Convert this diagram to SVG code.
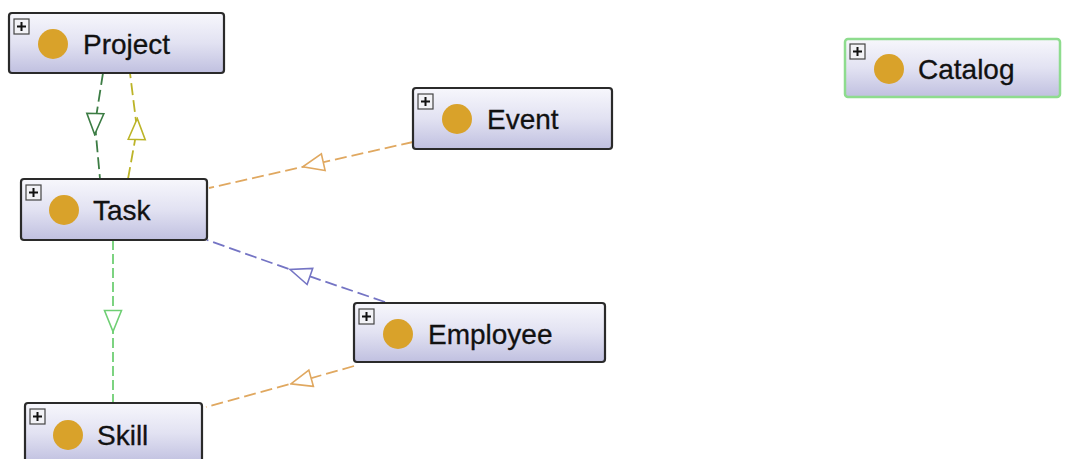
<svg xmlns="http://www.w3.org/2000/svg" width="1065" height="459" viewBox="0 0 1065 459">
  <defs>
    <linearGradient id="boxFill" x1="0" y1="0" x2="0" y2="1">
      <stop offset="0" stop-color="#f7f7fc"/>
      <stop offset="0.5" stop-color="#e2e2f2"/>
      <stop offset="1" stop-color="#c0c0e0"/>
    </linearGradient>
    <!-- hollow triangle placed at the middle vertex of each connector -->
    <marker id="triDarkGreen" viewBox="0 0 24 20" refX="12" refY="10" markerWidth="24" markerHeight="20" markerUnits="userSpaceOnUse" orient="auto">
      <polygon points="1.5,1.5 22.5,10 1.5,18.5" fill="#ffffff" stroke="#3c7c44" stroke-width="1.6"/>
    </marker>
    <marker id="triYellow" viewBox="0 0 24 20" refX="12" refY="10" markerWidth="24" markerHeight="20" markerUnits="userSpaceOnUse" orient="auto">
      <polygon points="1.5,1.5 22.5,10 1.5,18.5" fill="#ffffff" stroke="#bcb428" stroke-width="1.6"/>
    </marker>
    <marker id="triOrange" viewBox="0 0 24 20" refX="12" refY="10" markerWidth="24" markerHeight="20" markerUnits="userSpaceOnUse" orient="auto">
      <polygon points="1.5,1.5 22.5,10 1.5,18.5" fill="#ffffff" stroke="#e0a860" stroke-width="1.6"/>
    </marker>
    <marker id="triBlue" viewBox="0 0 24 20" refX="12" refY="10" markerWidth="24" markerHeight="20" markerUnits="userSpaceOnUse" orient="auto">
      <polygon points="1.5,1.5 22.5,10 1.5,18.5" fill="#ffffff" stroke="#7474c4" stroke-width="1.6"/>
    </marker>
    <marker id="triLightGreen" viewBox="0 0 24 20" refX="12" refY="10" markerWidth="24" markerHeight="20" markerUnits="userSpaceOnUse" orient="auto">
      <polygon points="1.5,1.5 22.5,10 1.5,18.5" fill="#ffffff" stroke="#6fcf74" stroke-width="1.6"/>
    </marker>
  </defs>
  <style>
    .box { fill: url(#boxFill); stroke: #2a2a2a; stroke-width: 2.2; }
    .box.green { stroke: #8edc8e; stroke-width: 2.5; }
    .plus { fill: #f2f2f6; stroke: #444444; stroke-width: 1.2; }
    .plusmark { stroke: #111111; stroke-width: 2; }
    .dot { fill: #d9a22a; }
    .label { font-family: "Liberation Sans", Arial, sans-serif; font-size: 28px; fill: #111111; stroke: #111111; stroke-width: 0.3; }
    .edge { fill: none; stroke-width: 1.8; stroke-dasharray: 12 5; }
    .darkgreen { stroke: #3c7c44; marker-mid: url(#triDarkGreen); }
    .yellow { stroke: #bcb428; marker-mid: url(#triYellow); }
    .orange { stroke: #e0a860; marker-mid: url(#triOrange); }
    .blue { stroke: #7474c4; marker-mid: url(#triBlue); }
    .lightgreen { stroke: #6fcf74; marker-mid: url(#triLightGreen); stroke-dasharray: 10 4; }
  </style>
  <rect width="1065" height="459" fill="#ffffff"/>

  <g id="connectors">
    <path class="edge darkgreen" d="M103,73 L95,124 L100,179"/>
    <path class="edge yellow" d="M128,179 L137,129 L130,73"/>
    <path class="edge orange" d="M413,142 L313,164.5 L209,188"/>
    <path class="edge blue" d="M385,302 L300,273 L207,240"/>
    <path class="edge lightgreen" d="M113,240 L113,321 L113,403"/>
    <path class="edge orange" d="M354,366 L301,381 L206,407"/>
  </g>

  <g id="node-project">
    <rect class="box" x="9" y="13" width="215" height="60" rx="3"/>
    <rect class="plus" x="14" y="19" width="15" height="15"/>
    <path class="plusmark" d="M17,26.5 H26 M21.5,22 V31"/>
    <circle class="dot" cx="53" cy="44" r="15"/>
    <text class="label" x="83" y="54">Project</text>
  </g>

  <g id="node-event">
    <rect class="box" x="413" y="88" width="199" height="61" rx="3"/>
    <rect class="plus" x="418" y="94" width="15" height="15"/>
    <path class="plusmark" d="M421,101.5 H430 M425.5,97 V106"/>
    <circle class="dot" cx="457" cy="119" r="15"/>
    <text class="label" x="487" y="129">Event</text>
  </g>

  <g id="node-catalog">
    <rect class="box green" x="845" y="39" width="215" height="58" rx="3"/>
    <rect class="plus" x="850" y="44" width="15" height="15"/>
    <path class="plusmark" d="M853,51.5 H862 M857.5,47 V56"/>
    <circle class="dot" cx="889" cy="69" r="15"/>
    <text class="label" x="918" y="79">Catalog</text>
  </g>

  <g id="node-task">
    <rect class="box" x="21" y="179" width="186" height="61" rx="3"/>
    <rect class="plus" x="26" y="185" width="15" height="15"/>
    <path class="plusmark" d="M29,192.5 H38 M33.5,188 V197"/>
    <circle class="dot" cx="64" cy="210" r="15"/>
    <text class="label" x="93" y="220">Task</text>
  </g>

  <g id="node-employee">
    <rect class="box" x="354" y="303" width="251" height="59" rx="3"/>
    <rect class="plus" x="359" y="309" width="15" height="15"/>
    <path class="plusmark" d="M362,316.5 H371 M366.5,312 V321"/>
    <circle class="dot" cx="398" cy="334" r="15"/>
    <text class="label" x="428" y="344">Employee</text>
  </g>

  <g id="node-skill">
    <rect class="box" x="25" y="403" width="177" height="60" rx="3"/>
    <rect class="plus" x="30" y="409" width="15" height="15"/>
    <path class="plusmark" d="M33,416.5 H42 M37.5,412 V421"/>
    <circle class="dot" cx="68" cy="435" r="15"/>
    <text class="label" x="97" y="445">Skill</text>
  </g>
</svg>
